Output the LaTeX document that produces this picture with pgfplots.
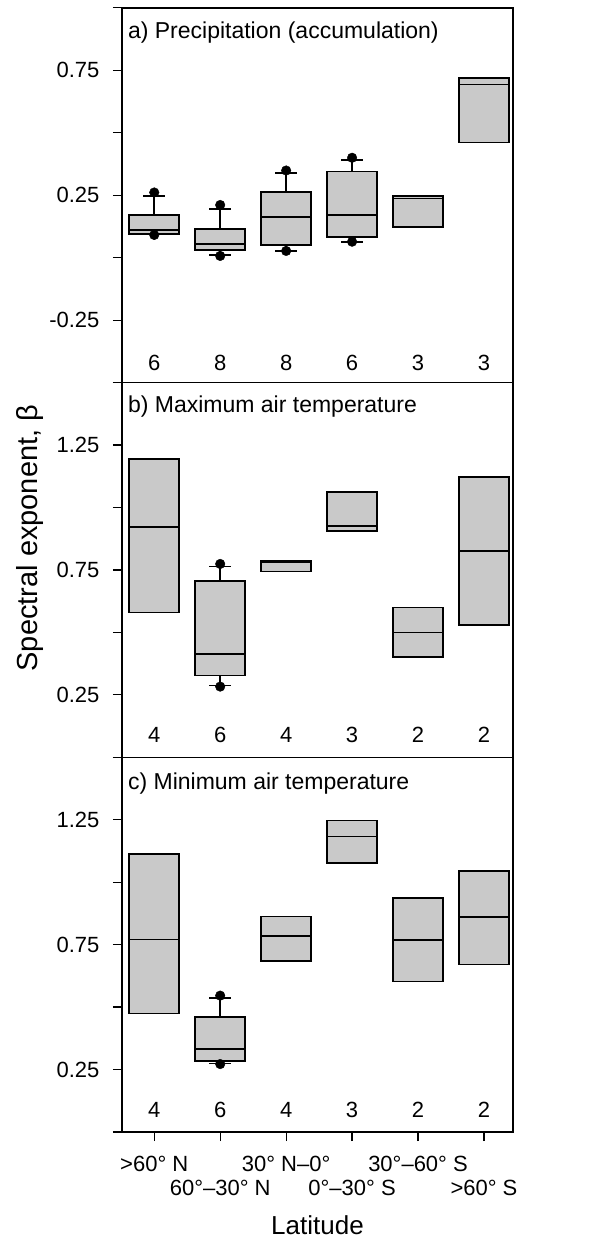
\documentclass[border=0pt]{standalone}
\usepackage{fontspec}
\setmainfont{Liberation Sans}
\usepackage{pgfplots}
\pgfplotsset{compat=1.18}
\usepgfplotslibrary{statistics}

\definecolor{boxgray}{gray}{0.79}

\pgfplotsset{
  panel/.style={
    scale only axis, width=391pt, height=374.7pt,
    xmin=0.511, xmax=6.44,
    boxplot/draw direction=y,
    axis line style={line width=1.5pt},
    tick style={line width=1.2pt, black},
    tick align=outside, tick pos=left,
    major tick length=9pt, minor tick length=9pt,
    ticklabel style={font=\fontsize{22}{22}\selectfont},
    yticklabel style={xshift=-10pt},
  },
  bx/.style={black, line width=1.7pt, fill=boxgray,
    boxplot/box extend=0.76, boxplot/whisker extend=0.33},
  dots/.style={only marks, mark=*, mark size=4.8pt, black},
}
\tikzset{
  ttl/.style={anchor=west, inner sep=0pt, font=\fontsize{23}{23}\selectfont},
  nlab/.style={font=\fontsize{22}{22}\selectfont},
}

\begin{document}
\begin{tikzpicture}
\path[use as bounding box] (-122pt,-109pt) rectangle (473pt,1132pt);

% a) precipitation
\begin{axis}[panel, at={(0pt,749.4pt)},
  ymin=-0.5, ymax=1.0,
  ytick={-0.25,0.25,0.75}, yticklabels={-0.25,0.25,0.75},
  minor ytick={-0.5,0,0.5,1}, xtick=\empty]
\addplot[bx, boxplot prepared={draw position=1, lower whisker=0.094, lower quartile=0.094, median=0.110, upper quartile=0.171, upper whisker=0.247}] coordinates {};
\addplot[bx, boxplot prepared={draw position=2, lower whisker=0.012, lower quartile=0.031, median=0.056, upper quartile=0.116, upper whisker=0.194}] coordinates {};
\addplot[bx, boxplot prepared={draw position=3, lower whisker=0.027, lower quartile=0.050, median=0.163, upper quartile=0.263, upper whisker=0.338}] coordinates {};
\addplot[bx, boxplot prepared={draw position=4, lower whisker=0.064, lower quartile=0.083, median=0.171, upper quartile=0.345, upper whisker=0.390}] coordinates {};
\addplot[bx, boxplot prepared={draw position=5, lower whisker=0.123, lower quartile=0.123, median=0.237, upper quartile=0.248, upper whisker=0.248}] coordinates {};
\addplot[bx, boxplot prepared={draw position=6, lower whisker=0.461, lower quartile=0.461, median=0.693, upper quartile=0.720, upper whisker=0.720}] coordinates {};
\addplot[dots] coordinates {(1,0.261) (1,0.091) (2,0.211) (2,0.007) (3,0.349) (3,0.027) (4,0.400) (4,0.064)};
\node[ttl] at (rel axis cs:0.015,0.933) {a) Precipitation (accumulation)};
\node[nlab] at (axis cs:1,-0.42) {6};
\node[nlab] at (axis cs:2,-0.42) {8};
\node[nlab] at (axis cs:3,-0.42) {8};
\node[nlab] at (axis cs:4,-0.42) {6};
\node[nlab] at (axis cs:5,-0.42) {3};
\node[nlab] at (axis cs:6,-0.42) {3};
\end{axis}

% b) maximum air temperature
\begin{axis}[panel, at={(0pt,374.7pt)},
  ymin=0, ymax=1.5,
  ytick={0.25,0.75,1.25}, yticklabels={0.25,0.75,1.25},
  minor ytick={0,0.5,1,1.5}, xtick=\empty,
  ylabel={Spectral exponent, β},
  ylabel style={at={(axis description cs:-0.235,0.585)}, anchor=center,
    font=\fontsize{29}{29}\selectfont}]
\addplot[bx, boxplot prepared={draw position=1, lower whisker=0.580, lower quartile=0.580, median=0.923, upper quartile=1.194, upper whisker=1.194}] coordinates {};
\addplot[bx, boxplot prepared={draw position=2, lower whisker=0.287, lower quartile=0.327, median=0.413, upper quartile=0.706, upper whisker=0.764}] coordinates {};
\addplot[bx, boxplot prepared={draw position=3, lower whisker=0.744, lower quartile=0.744, median=0.780, upper quartile=0.786, upper whisker=0.786}] coordinates {};
\addplot[bx, boxplot prepared={draw position=4, lower whisker=0.906, lower quartile=0.906, median=0.926, upper quartile=1.063, upper whisker=1.063}] coordinates {};
\addplot[bx, boxplot prepared={draw position=5, lower whisker=0.401, lower quartile=0.401, median=0.500, upper quartile=0.600, upper whisker=0.600}] coordinates {};
\addplot[bx, boxplot prepared={draw position=6, lower whisker=0.529, lower quartile=0.529, median=0.826, upper quartile=1.121, upper whisker=1.121}] coordinates {};
\addplot[dots] coordinates {(2,0.774) (2,0.283)};
\node[ttl] at (rel axis cs:0.015,0.937) {b) Maximum air temperature};
\node[nlab] at (axis cs:1,0.089) {4};
\node[nlab] at (axis cs:2,0.089) {6};
\node[nlab] at (axis cs:3,0.089) {4};
\node[nlab] at (axis cs:4,0.089) {3};
\node[nlab] at (axis cs:5,0.089) {2};
\node[nlab] at (axis cs:6,0.089) {2};
\end{axis}

% c) minimum air temperature
\begin{axis}[panel, at={(0pt,0pt)},
  ymin=0, ymax=1.5,
  ytick={0.25,0.75,1.25}, yticklabels={0.25,0.75,1.25},
  minor ytick={0,0.5,1,1.5},
  xtick={1,3,5}, xticklabels={>60° N, 30° N–0°, 30°–60° S},
  xticklabel style={yshift=-12pt},
  extra x ticks={2,4,6}, extra x tick labels={60°–30° N, 0°–30° S, >60° S},
  extra x tick style={xticklabel style={yshift=-24pt}},
  xlabel={Latitude},
  xlabel style={at={(axis description cs:0.5,-0.248)}, anchor=center,
    font=\fontsize{26}{26}\selectfont}]
\addplot[bx, boxplot prepared={draw position=1, lower whisker=0.474, lower quartile=0.474, median=0.771, upper quartile=1.114, upper whisker=1.114}] coordinates {};
\addplot[bx, boxplot prepared={draw position=2, lower whisker=0.274, lower quartile=0.284, median=0.331, upper quartile=0.460, upper whisker=0.536}] coordinates {};
\addplot[bx, boxplot prepared={draw position=3, lower whisker=0.684, lower quartile=0.684, median=0.784, upper quartile=0.863, upper whisker=0.863}] coordinates {};
\addplot[bx, boxplot prepared={draw position=4, lower whisker=1.078, lower quartile=1.078, median=1.183, upper quartile=1.247, upper whisker=1.247}] coordinates {};
\addplot[bx, boxplot prepared={draw position=5, lower whisker=0.603, lower quartile=0.603, median=0.770, upper quartile=0.936, upper whisker=0.936}] coordinates {};
\addplot[bx, boxplot prepared={draw position=6, lower whisker=0.671, lower quartile=0.671, median=0.860, upper quartile=1.044, upper whisker=1.044}] coordinates {};
\addplot[dots] coordinates {(2,0.546) (2,0.272)};
\node[ttl] at (rel axis cs:0.015,0.930) {c) Minimum air temperature};
\node[nlab] at (axis cs:1,0.088) {4};
\node[nlab] at (axis cs:2,0.088) {6};
\node[nlab] at (axis cs:3,0.088) {4};
\node[nlab] at (axis cs:4,0.088) {3};
\node[nlab] at (axis cs:5,0.088) {2};
\node[nlab] at (axis cs:6,0.088) {2};
\end{axis}
\end{tikzpicture}
\end{document}
